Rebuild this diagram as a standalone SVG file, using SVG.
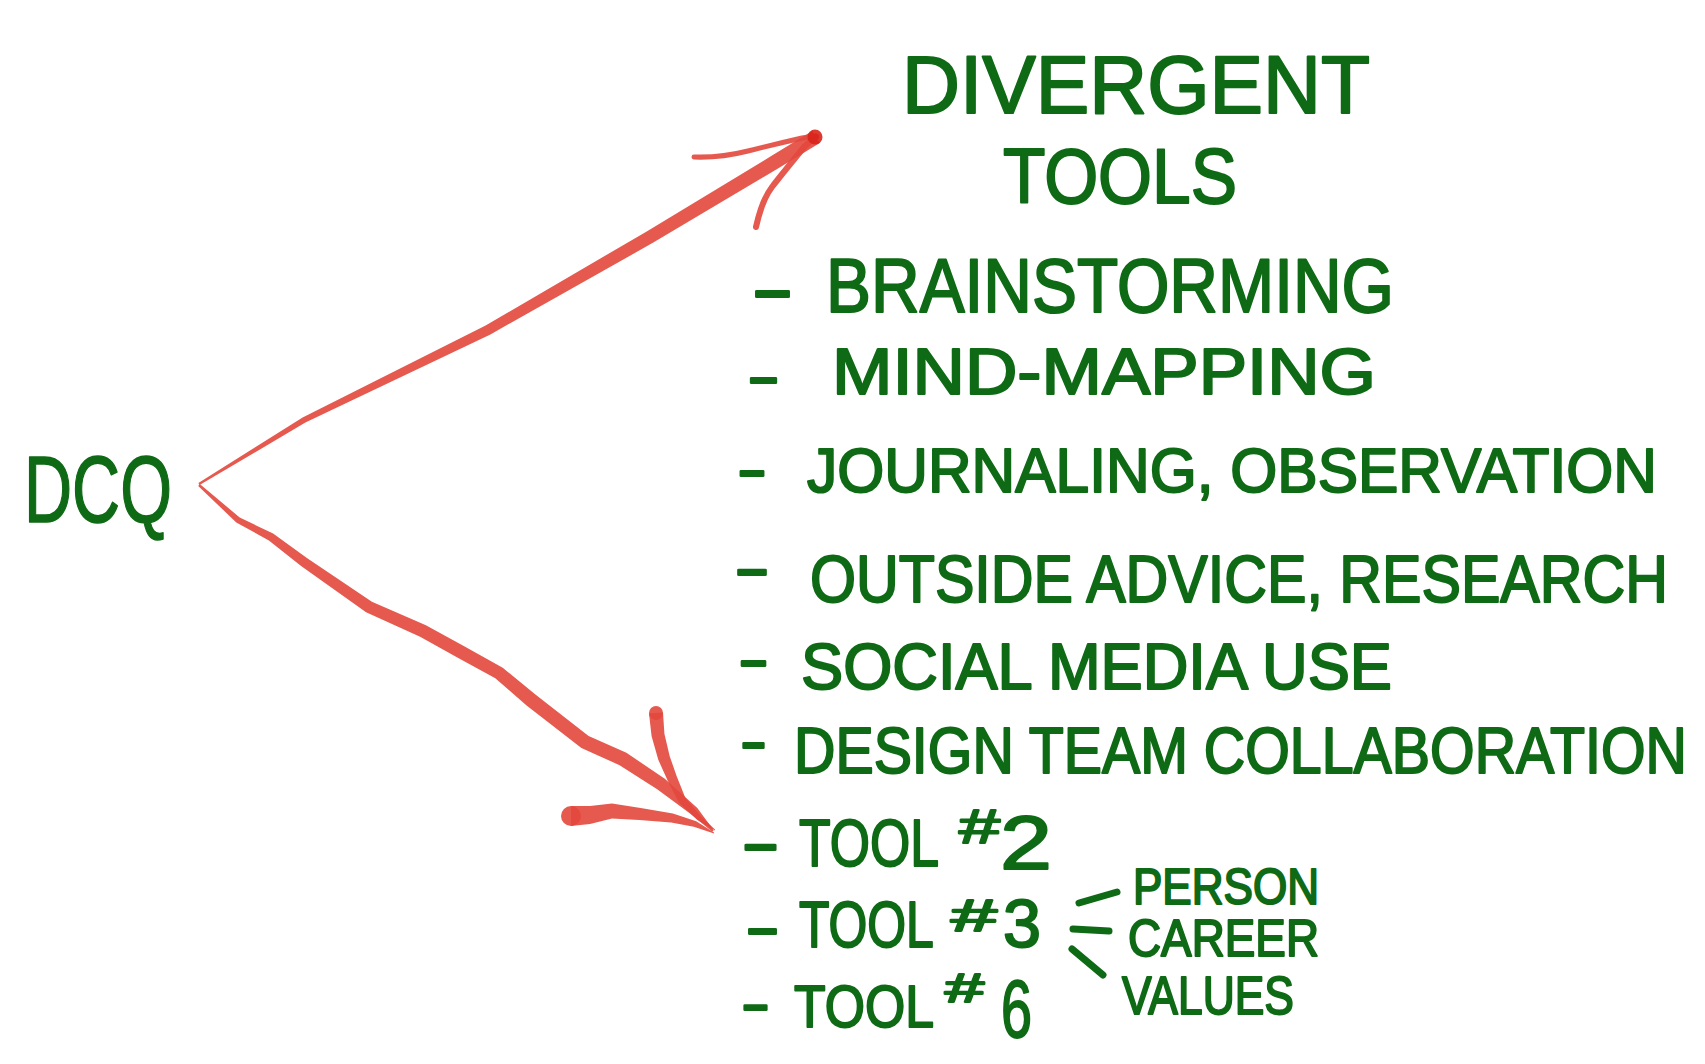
<svg xmlns="http://www.w3.org/2000/svg" width="1705" height="1064" viewBox="0 0 1705 1064">
<style>
.t{font-family:'Liberation Sans',Arial,sans-serif;font-weight:400;fill:#0f6a15;stroke:#0f6a15;stroke-width:2;stroke-linejoin:round}
.red{fill:#e2473c;fill-opacity:0.9}
.redl{fill:none;stroke:#e2473c;stroke-opacity:0.9;stroke-linecap:round;stroke-linejoin:round}
.fork{stroke:#0f6a15;stroke-width:7;stroke-linecap:round;fill:none}
</style>
<rect width="1705" height="1064" fill="#ffffff"/>
<g id="connectors">
  <g id="arrow-divergent">
    <polygon class="red" points="199.6,485 305.4,422.6 490.4,334.4 653.3,242.6 778.8,167.9 819.8,142.9 812.2,131.1 771.2,156.1 646.7,231.4 485.6,325.6 302.6,417.4 198.4,483"/>
    <path class="redl" stroke-width="5" d="M694,157 Q720,158 748,151 T802,138 L816,136"/>
    <path class="redl" stroke-width="6" d="M756,227 Q762,200 772,187 T805,146 L816,137"/>
    <circle cx="815" cy="137" r="7.5" fill="#d8241a" fill-opacity="0.9"/>
  </g>
  <g id="arrow-tool2">
    <polygon class="red" points="198.2,485.9 236.3,522.5 268.9,540.4 301.1,566.1 366.1,612.2 420.1,636.8 457.8,657.7 495.3,678.3 526.6,705.5 581.4,748 619.6,765.2 657.2,789.3 690.7,814 712.3,831.7 713.7,830.3 697.3,808 664.8,778.7 626.4,752.8 588.6,736 535.4,694.5 502.7,667.7 464.2,646.3 425.9,625.2 371.9,601.8 306.9,557.9 273.1,533.6 239.7,517.5 199.8,484.1"/>
    <circle class="red" cx="656" cy="713" r="7"/>
    <polygon class="red" points="649,713.6 651.6,736.3 658.3,759.8 667.4,780 678.7,802.2 697.4,819.9 715,830.6 715,829.4 700.6,816.1 685.3,797.8 676.6,776 669.7,756.2 664.4,733.7 663,712.4"/>
    <circle class="red" cx="571" cy="816" r="10"/>
    <polygon class="red" points="571,826 590,824 612,818.5 639.3,820 671.1,822.4 693.8,826.7 714,833.6 714,832.4 696.2,821.3 672.9,813.6 640.7,808 612,803.5 590,806 571,806"/>
  </g>
  <g id="fork-tool3">
    <line class="fork" x1="1079" y1="903" x2="1117" y2="892"/>
    <line class="fork" x1="1073" y1="929" x2="1109" y2="931"/>
    <line class="fork" x1="1072" y1="949" x2="1103" y2="975"/>
  </g>
</g>
<g id="dcq">
  <text class="t" font-size="95" x="24" y="522" textLength="148" lengthAdjust="spacingAndGlyphs" style="stroke-width:1.5">DCQ</text>
</g>
<g id="divergent-tools">
  <text class="t" font-size="82" x="902" y="113" textLength="468" lengthAdjust="spacingAndGlyphs">DIVERGENT</text>
  <text class="t" font-size="78" x="1003" y="203" textLength="234" lengthAdjust="spacingAndGlyphs">TOOLS</text>
</g>
<g id="item-brainstorming">
  <text class="t" font-size="76"><tspan x="751" y="314" textLength="43" lengthAdjust="spacingAndGlyphs">-</tspan> <tspan x="826" y="312" textLength="568" lengthAdjust="spacingAndGlyphs">BRAINSTORMING</tspan></text>
</g>
<g id="item-mind-mapping">
  <text class="t" font-size="64"><tspan x="747" y="398" textLength="33" lengthAdjust="spacingAndGlyphs">-</tspan> <tspan x="832" y="394" textLength="544" lengthAdjust="spacingAndGlyphs">MIND-MAPPING</tspan></text>
</g>
<g id="item-journaling">
  <text class="t" font-size="63"><tspan x="737" y="490" textLength="30" lengthAdjust="spacingAndGlyphs">-</tspan> <tspan x="807" y="492" textLength="850" lengthAdjust="spacingAndGlyphs">JOURNALING, OBSERVATION</tspan></text>
</g>
<g id="item-outside-advice">
  <text class="t" font-size="66"><tspan x="734" y="590" textLength="36" lengthAdjust="spacingAndGlyphs">-</tspan> <tspan x="810" y="602" textLength="858" lengthAdjust="spacingAndGlyphs">OUTSIDE ADVICE, RESEARCH</tspan></text>
</g>
<g id="item-social-media">
  <text class="t" font-size="64"><tspan x="738" y="681" textLength="31" lengthAdjust="spacingAndGlyphs">-</tspan> <tspan x="801" y="689" textLength="591" lengthAdjust="spacingAndGlyphs">SOCIAL MEDIA USE</tspan></text>
</g>
<g id="item-design-team">
  <text class="t" font-size="64"><tspan x="740" y="763" textLength="27" lengthAdjust="spacingAndGlyphs">-</tspan> <tspan x="794" y="773" textLength="893" lengthAdjust="spacingAndGlyphs">DESIGN TEAM COLLABORATION</tspan></text>
</g>
<g id="item-tool2">
  <text class="t" font-size="67"><tspan x="741" y="865" textLength="39" lengthAdjust="spacingAndGlyphs">-</tspan><tspan x="799" y="866" textLength="138" lengthAdjust="spacingAndGlyphs">TOOL</tspan> <tspan x="959" y="843" font-size="48" textLength="41" lengthAdjust="spacingAndGlyphs">#</tspan><tspan x="1000" y="869" font-size="76" textLength="52" lengthAdjust="spacingAndGlyphs">2</tspan></text>
</g>
<g id="item-tool3">
  <text class="t" font-size="64"><tspan x="745" y="949" textLength="35" lengthAdjust="spacingAndGlyphs">-</tspan><tspan x="799" y="947" textLength="133" lengthAdjust="spacingAndGlyphs">TOOL</tspan> <tspan x="951" y="931" font-size="44" textLength="46" lengthAdjust="spacingAndGlyphs">#</tspan><tspan x="1003" y="947" font-size="68" textLength="38" lengthAdjust="spacingAndGlyphs">3</tspan></text>
</g>
<g id="item-tool6">
  <text class="t" font-size="59"><tspan x="741" y="1023" textLength="29" lengthAdjust="spacingAndGlyphs">-</tspan><tspan x="794" y="1027" textLength="138" lengthAdjust="spacingAndGlyphs">TOOL</tspan> <tspan x="945" y="1002" font-size="40" textLength="39" lengthAdjust="spacingAndGlyphs">#</tspan><tspan x="1001" y="1037" font-size="82" textLength="31" lengthAdjust="spacingAndGlyphs">6</tspan></text>
</g>
<g id="sub-person">
  <text class="t" font-size="50" x="1133" y="904" textLength="186" lengthAdjust="spacingAndGlyphs">PERSON</text>
</g>
<g id="sub-career">
  <text class="t" font-size="52" x="1128" y="956" textLength="191" lengthAdjust="spacingAndGlyphs">CAREER</text>
</g>
<g id="sub-values">
  <text class="t" font-size="54" x="1122" y="1014" textLength="172" lengthAdjust="spacingAndGlyphs">VALUES</text>
</g>
</svg>
